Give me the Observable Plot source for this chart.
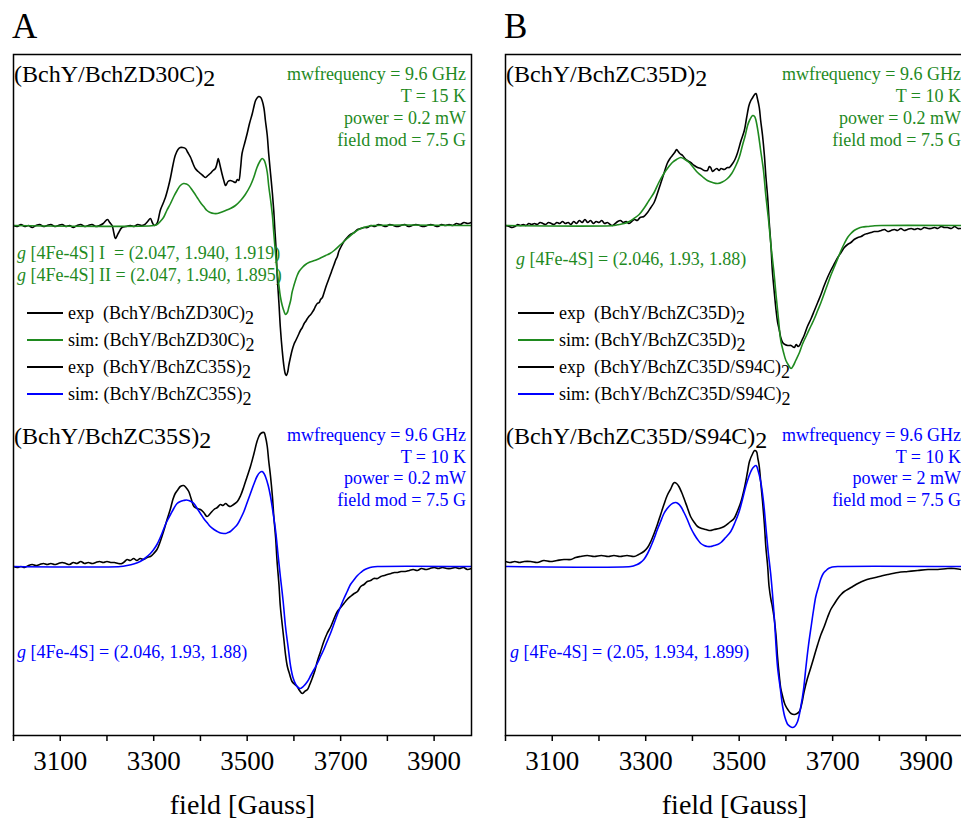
<!DOCTYPE html>
<html>
<head>
<meta charset="utf-8">
<script src="https://cdn.jsdelivr.net/npm/d3@7"></script>
<script src="https://cdn.jsdelivr.net/npm/@observablehq/plot@0.6"></script>
<style>
  html, body { margin: 0; padding: 0; background: #fff; overflow: hidden; }
  #root { position: relative; width: 961px; height: 819px; overflow: hidden; font-family: "Liberation Serif", "Times New Roman", serif; color: #000; }
  .abs { position: absolute; white-space: pre; }
  .sub { position: relative; top: 5px; }
  .sub4 { position: relative; top: 4px; }
  .row { position: absolute; height: 27px; line-height: 27px; font-size: 18px; white-space: pre; }
  .sw { position: absolute; top: 12px; height: 1.6px; }
</style>
</head>
<body>
<div id="root"></div>
<script>
// ---------- data (field in Gauss, intensity in arbitrary units relative to each baseline) ----------
const fieldTicks = d3.range(3000, 3981, 100);
const fieldDomain = [3000, 3980];
const offsetTop = 510;    // vertical offset of upper spectrum (a.u.)
const offsetBottom = 169; // vertical offset of lower spectrum (a.u.)

// Panel A, upper: (BchY/BchZD30C)2
const expD30C = [[3000,0],[3008,-1],[3016,1],[3024,-1],[3032,0],[3040,-2],[3048,0],[3056,1],[3064,-1],[3072,0],[3080,1],[3088,-1],[3096,0],[3104,1],[3112,-1],[3120,0],[3128,-2],[3136,0],[3144,1],[3152,-1],[3160,0],[3168,1],[3176,-1],[3184,0],[3192,2],[3201,6],[3206,3],[3211,0],[3215,-8],[3218,-13],[3224,-8],[3232,-2],[3240,-1],[3250,0],[3258,-1],[3266,1],[3274,0],[3281,1],[3287,4],[3293,7],[3297,3],[3301,0],[3307,2],[3314,15],[3320,22],[3325,28],[3331,38],[3336,48],[3341,60],[3346,70],[3352,76],[3357,78],[3362,78],[3368,77],[3373,73],[3379,68],[3384,62],[3389,57],[3395,54],[3400,52],[3405,50],[3411,48],[3416,50],[3421,52],[3427,55],[3432,57],[3436,63],[3438,67],[3442,60],[3446,52],[3450,45],[3454,40],[3459,44],[3464,45],[3470,44],[3475,43],[3479,46],[3482,45],[3486,58],[3489,72],[3495,83],[3500,92],[3505,102],[3511,112],[3515,120],[3518,125],[3522,128],[3525,129],[3529,128],[3532,125],[3536,117],[3539,105],[3543,90],[3546,72],[3550,52],[3554,32],[3557,14],[3559,-2],[3562,-25],[3564,-48],[3568,-78],[3571,-102],[3575,-125],[3579,-142],[3582,-149],[3584,-150],[3587,-146],[3589,-140],[3593,-131],[3596,-125],[3600,-119],[3604,-115],[3607,-112],[3611,-108],[3614,-105],[3618,-102],[3622,-98],[3625,-96],[3629,-93],[3632,-91],[3636,-89],[3639,-87],[3643,-84],[3646,-81],[3650,-78],[3654,-77],[3657,-74],[3661,-72],[3664,-68],[3668,-62],[3671,-58],[3675,-53],[3679,-48],[3682,-44],[3686,-39],[3689,-35],[3693,-31],[3696,-26],[3700,-22],[3707,-16],[3714,-12],[3721,-9],[3729,-7],[3736,-4],[3743,-3],[3750,-2],[3757,-2],[3765,0],[3773,-1],[3781,1],[3789,0],[3797,-1],[3805,1],[3813,0],[3821,-1],[3829,0],[3837,1],[3845,-1],[3853,0],[3861,1],[3869,0],[3877,-1],[3885,0],[3893,1],[3900,0],[3908,-1],[3916,1],[3924,0],[3932,1],[3940,0],[3948,2],[3956,1],[3964,3],[3972,2],[3980,3]];
const simD30C = [[3000,0],[3300,0],[3307,1],[3314,4],[3321,8],[3328,15],[3336,22],[3343,29],[3350,35],[3357,40],[3364,42],[3370,41.5],[3375,40],[3380,37],[3386,33],[3393,28],[3400,23],[3407,19],[3414,15],[3421,13],[3429,12],[3436,12],[3443,13],[3454,15],[3464,17],[3475,20],[3486,25],[3496,31],[3507,40],[3514,48],[3521,58],[3527,64],[3532,67],[3536,65.5],[3539,62],[3543,53],[3546,40],[3550,26],[3554,10],[3557,-8],[3561,-30],[3564,-45],[3568,-60],[3571,-71],[3575,-80],[3579,-86],[3582,-89],[3586,-87],[3589,-82],[3593,-75],[3596,-67],[3600,-60],[3604,-54],[3607,-50],[3611,-46],[3618,-42],[3625,-39],[3632,-37],[3641,-35.5],[3650,-34],[3659,-32],[3668,-30],[3677,-28],[3686,-25],[3700,-19],[3714,-13],[3729,-7],[3743,-3],[3757,-1],[3771,0],[3980,0]];

// Panel A, lower: (BchY/BchZC35S)2
const expC35S = [[3000,0],[3008,-1],[3016,0],[3024,-1],[3032,1],[3040,2],[3048,1],[3056,2],[3064,3],[3072,2],[3080,3],[3088,2],[3096,3],[3104,4],[3112,3],[3120,2],[3128,4],[3136,3],[3144,5],[3152,3],[3160,4],[3168,3],[3176,4],[3184,5],[3192,4],[3200,5],[3208,4],[3216,4],[3224,3],[3232,3],[3238,5],[3243,7],[3250,6],[3257,8],[3264,6],[3271,8],[3278,7],[3286,9],[3293,10],[3300,13],[3307,17],[3314,25],[3321,35],[3328,46],[3336,58],[3341,67],[3346,73],[3352,77],[3357,80],[3364,81],[3369,79],[3375,75],[3380,68],[3386,60],[3393,58],[3400,57],[3407,54],[3414,50],[3421,53],[3429,57],[3436,59],[3443,62],[3448,61],[3454,63],[3459,61],[3464,60],[3471,62],[3479,65],[3486,71],[3493,80],[3500,90],[3507,100],[3514,112],[3521,125],[3525,130],[3529,133],[3536,134],[3539,130],[3543,120],[3546,106],[3550,90],[3554,70],[3557,50],[3561,28],[3564,5],[3568,-18],[3571,-40],[3575,-58],[3579,-75],[3582,-88],[3586,-100],[3591,-108],[3596,-115],[3602,-118],[3607,-120],[3612,-124],[3618,-127],[3623,-125],[3629,-123],[3634,-118],[3639,-112],[3645,-104],[3650,-95],[3657,-85],[3664,-75],[3671,-67],[3679,-60],[3686,-52],[3693,-45],[3700,-41],[3707,-37],[3714,-33],[3721,-30],[3729,-27],[3736,-25],[3743,-20],[3750,-18],[3757,-15],[3764,-14],[3771,-12],[3779,-12],[3786,-10],[3793,-9],[3800,-8],[3808,-7],[3815,-6],[3822,-6],[3829,-5],[3838,-5],[3847,-4],[3855,-3],[3864,-4],[3873,-2],[3882,-3],[3891,-2],[3900,-1],[3909,-2],[3918,-1],[3927,-2],[3936,-2],[3945,-1],[3954,-2],[3963,-1],[3971,-3],[3980,-2]];
const simC35S = [[3000,0],[3229,0],[3243,1],[3257,2.5],[3271,5],[3282,8.5],[3293,13],[3300,17],[3307,22],[3314,29],[3321,37],[3328,45],[3336,52],[3343,58],[3350,63],[3357,65],[3364,66],[3370,66.5],[3375,66],[3380,65],[3386,63],[3393,58],[3400,53],[3407,48],[3414,44],[3421,40],[3429,37],[3436,35],[3443,33.5],[3450,33],[3454,33],[3459,34],[3464,35],[3471,38],[3479,42],[3486,48],[3493,55],[3500,64],[3507,73],[3514,82],[3521,90],[3527,94],[3532,95],[3536,93],[3539,90],[3545,81],[3550,70],[3555,55],[3561,35],[3566,12],[3571,-10],[3577,-35],[3582,-60],[3588,-82],[3593,-100],[3598,-111],[3604,-118],[3609,-121],[3614,-122],[3620,-120],[3629,-115],[3636,-109],[3643,-103],[3650,-97],[3657,-90],[3664,-83],[3671,-75],[3679,-66],[3686,-57],[3693,-48],[3700,-40],[3707,-32],[3714,-25],[3721,-18],[3729,-13],[3736,-9],[3743,-6],[3750,-3.5],[3757,-2],[3768,-0.5],[3779,0],[3980,0]];

// Panel B, upper: (BchY/BchZC35D)2
const expC35D = [[3000,0],[3008,-1],[3014,-2],[3020,-1],[3026,1],[3032,0],[3038,1],[3044,0],[3050,2],[3056,1],[3062,2],[3068,1],[3074,3],[3080,2],[3086,1],[3092,3],[3098,2],[3104,1],[3110,3],[3116,2],[3122,4],[3128,2],[3134,3],[3140,1],[3146,4],[3152,2],[3158,5],[3164,3],[3170,6],[3176,3],[3182,5],[3188,2],[3194,4],[3200,3],[3206,5],[3212,2],[3218,3],[3224,1],[3229,0],[3235,2],[3240,4],[3246,5],[3252,3],[3258,4],[3264,2],[3270,4],[3276,6],[3282,5],[3288,8],[3296,9],[3304,13],[3311,18],[3318,23],[3325,32],[3332,42],[3339,52],[3346,62],[3352,67],[3357,70],[3362,73],[3366,76],[3368,75],[3373,72],[3379,70],[3384,67],[3389,65],[3396,63],[3404,60],[3411,58],[3418,57],[3425,55],[3432,55],[3436,59],[3439,58],[3443,54],[3446,55],[3452,57],[3457,55],[3461,57],[3468,56],[3475,58],[3479,58],[3486,62],[3491,66],[3496,72],[3504,85],[3511,95],[3516,108],[3521,120],[3525,125],[3529,128],[3533,131],[3536,132],[3539,127],[3543,118],[3546,105],[3550,90],[3554,70],[3557,50],[3561,28],[3564,5],[3568,-20],[3571,-45],[3575,-66],[3579,-85],[3582,-96],[3586,-105],[3589,-112],[3593,-117],[3598,-119],[3604,-120],[3611,-120],[3618,-122],[3622,-119],[3626,-121],[3629,-120],[3634,-115],[3639,-110],[3646,-101],[3654,-93],[3661,-85],[3668,-77],[3675,-69],[3682,-60],[3689,-52],[3696,-45],[3704,-38],[3711,-32],[3718,-27],[3725,-22],[3732,-19],[3739,-17],[3746,-14],[3754,-12],[3761,-11],[3768,-9],[3775,-8],[3782,-7],[3789,-6],[3797,-6],[3804,-5],[3811,-4],[3818,-6],[3825,-5],[3832,-4],[3839,-5],[3846,-3],[3853,-5],[3860,-4],[3868,-3],[3875,-4],[3882,-3],[3889,-4],[3896,-2],[3904,-3],[3911,-3],[3918,-2],[3925,-3],[3932,-1],[3939,-2],[3946,-2],[3954,-3],[3961,-1],[3968,-3],[3975,-3],[3980,-4]];
const simC35D = [[3000,0],[3232,0],[3243,1],[3254,2],[3265,4],[3275,7],[3286,11],[3296,17],[3307,25],[3318,33],[3328,43],[3339,52],[3348,58],[3357,63],[3366,66],[3375,68],[3384,66],[3393,63],[3402,58],[3411,53],[3421,49],[3432,45],[3443,43],[3454,42],[3464,43.5],[3475,47],[3484,52],[3493,60],[3500,68],[3507,80],[3513,90],[3518,100],[3523,106],[3529,110],[3533,109],[3536,105],[3541,92],[3546,75],[3552,55],[3557,30],[3563,5],[3568,-20],[3574,-45],[3579,-70],[3584,-93],[3589,-115],[3595,-127],[3600,-135],[3606,-140],[3611,-143],[3616,-140],[3621,-135],[3629,-127],[3636,-118],[3645,-109],[3654,-100],[3661,-93],[3668,-85],[3675,-77],[3682,-68],[3689,-59],[3696,-50],[3704,-41],[3711,-33],[3718,-25],[3725,-18],[3732,-12],[3739,-8],[3746,-5],[3754,-3],[3764,-1.5],[3775,-1],[3790,-0.3],[3804,0],[3980,0]];

// Panel B, lower: (BchY/BchZC35D/S94C)2
const expS94C = [[3000,5],[3010,4],[3020,5],[3030,4],[3040,5],[3054,5],[3068,4],[3082,6],[3096,5],[3110,6],[3125,7],[3140,7],[3150,9],[3160,10],[3175,11],[3190,10],[3205,11],[3220,10],[3232,11],[3245,10],[3260,11],[3275,10],[3285,12],[3296,15],[3304,19],[3311,25],[3318,33],[3325,42],[3332,52],[3339,62],[3346,71],[3354,78],[3359,83],[3362,84],[3366,83],[3371,80],[3377,74],[3382,68],[3389,59],[3396,50],[3404,44],[3411,40],[3420,38],[3429,37],[3438,36],[3446,37],[3457,38],[3468,40],[3479,44],[3489,48],[3496,55],[3504,65],[3511,78],[3518,95],[3522,105],[3529,113],[3533,116],[3537,115],[3540,108],[3543,100],[3546,85],[3550,65],[3554,42],[3557,20],[3561,0],[3564,-20],[3568,-33],[3571,-40],[3575,-52],[3579,-70],[3582,-90],[3586,-110],[3589,-122],[3593,-130],[3598,-138],[3604,-143],[3611,-147],[3618,-148],[3624,-147],[3629,-145],[3634,-137],[3639,-125],[3646,-112],[3654,-100],[3661,-89],[3668,-78],[3675,-68],[3682,-60],[3689,-51],[3696,-43],[3704,-37],[3711,-32],[3718,-28],[3725,-25],[3732,-23],[3743,-20],[3754,-17],[3768,-14],[3782,-12],[3800,-10],[3818,-8],[3840,-6],[3861,-5],[3882,-4],[3904,-3],[3925,-3],[3946,-2],[3960,-2],[3975,-3],[3980,-4]];
const simS94C = [[3000,0],[3268,0],[3275,0.8],[3282,2],[3289,4],[3296,7],[3304,13],[3311,20],[3318,28],[3325,37],[3332,45],[3339,53],[3346,58],[3354,62],[3359,63.5],[3364,64],[3369,63],[3375,60],[3382,54],[3389,47],[3396,39],[3404,32],[3411,27],[3418,23],[3425,21],[3432,20],[3439,20],[3446,21],[3454,22],[3461,24],[3471,29],[3482,35],[3491,44],[3500,55],[3507,67],[3514,80],[3520,89],[3525,95],[3530,99],[3536,101],[3541,95],[3546,85],[3552,65],[3557,40],[3562,15],[3568,-10],[3575,-50],[3582,-100],[3588,-122],[3593,-140],[3598,-151],[3604,-158],[3609,-160],[3614,-161],[3619,-160],[3625,-155],[3632,-140],[3638,-122],[3643,-100],[3648,-80],[3654,-60],[3659,-44],[3664,-30],[3670,-20],[3675,-12],[3680,-7],[3686,-4],[3691,-2],[3696,-1],[3704,-0.3],[3711,0],[3980,0]];

// ---------- text ----------
const GREEN = "#1f8a1f";
const BLUE = "#0000ff";
const xLabel = "field [Gauss]";
const panels = [
  {
    letter: "A", left: 0,
    top:    {name: "(BchY/BchZD30C)", exp: expD30C, sim: simD30C, color: GREEN,
             params: ["mwfrequency = 9.6 GHz", "T = 15 K", "power = 0.2 mW", "field mod = 7.5 G"],
             g: [" [4Fe-4S] I  = (2.047, 1.940, 1.919)", " [4Fe-4S] II = (2.047, 1.940, 1.895)"]},
    bottom: {name: "(BchY/BchZC35S)", exp: expC35S, sim: simC35S, color: BLUE,
             params: ["mwfrequency = 9.6 GHz", "T = 10 K", "power = 0.2 mW", "field mod = 7.5 G"],
             g: [" [4Fe-4S] = (2.046, 1.93, 1.88)"]},
    legend: [["exp  ", "(BchY/BchZD30C)", "#000"], ["sim: ", "(BchY/BchZD30C)", GREEN],
             ["exp  ", "(BchY/BchZC35S)", "#000"], ["sim: ", "(BchY/BchZC35S)", BLUE]],
    gLeftTop: 17, gLeftBottom: 17, legendLeft: 27, paramRight: 466
  },
  {
    letter: "B", left: 492,
    top:    {name: "(BchY/BchZC35D)", exp: expC35D, sim: simC35D, color: GREEN,
             params: ["mwfrequency = 9.6 GHz", "T = 10 K", "power = 0.2 mW", "field mod = 7.5 G"],
             g: [" [4Fe-4S] = (2.046, 1.93, 1.88)"]},
    bottom: {name: "(BchY/BchZC35D/S94C)", exp: expS94C, sim: simS94C, color: BLUE,
             params: ["mwfrequency = 9.6 GHz", "T = 10 K", "power = 2 mW", "field mod = 7.5 G"],
             g: [" [4Fe-4S] = (2.05, 1.934, 1.899)"]},
    legend: [["exp  ", "(BchY/BchZC35D)", "#000"], ["sim: ", "(BchY/BchZC35D)", GREEN],
             ["exp  ", "(BchY/BchZC35D/S94C)", "#000"], ["sim: ", "(BchY/BchZC35D/S94C)", BLUE]],
    gLeftTop: 516 - 492, gLeftBottom: 510 - 492, legendLeft: 518 - 492, paramRight: 961 - 492
  }
];

const root = document.getElementById("root");

function addDiv(html, css) {
  const d = document.createElement("div");
  d.className = "abs";
  d.innerHTML = html;
  Object.assign(d.style, css);
  root.appendChild(d);
  return d;
}

for (const p of panels) {
  const lineOpts = (arr, off, color) => ({
    x: d => d[0], y: d => d[1] + off, stroke: color, strokeWidth: 1.6, curve: "catmull-rom", clip: true
  });
  const chart = Plot.plot({
    width: 480, height: 819,
    marginLeft: 13, marginRight: 9, marginTop: 54, marginBottom: 84,
    x: {domain: fieldDomain},
    y: {domain: [0, 681], axis: null},
    style: {fontFamily: "Liberation Serif, Times New Roman, serif", background: "transparent", color: "#000", overflow: "visible"},
    marks: [
      Plot.line(p.top.exp, lineOpts(p.top.exp, offsetTop, "#000")),
      Plot.line(p.top.sim, lineOpts(p.top.sim, offsetTop, p.top.color)),
      Plot.line(p.bottom.exp, lineOpts(p.bottom.exp, offsetBottom, "#000")),
      Plot.line(p.bottom.sim, lineOpts(p.bottom.sim, offsetBottom, p.bottom.color)),
      Plot.frame({stroke: "#000", strokeWidth: 1.5}),
      Plot.axisX(fieldTicks, {
        tickSize: 6, tickPadding: 9, fontSize: 27, strokeWidth: 1.5, label: null,
        tickFormat: d => (d % 200 === 100 ? String(d) : "")
      }),
      Plot.text([xLabel], {frameAnchor: "bottom", lineAnchor: "bottom", dy: 78, fontSize: 28, fill: "#000"})
    ]
  });
  chart.style.position = "absolute";
  chart.style.left = p.left + "px";
  chart.style.top = "0px";
  root.appendChild(chart);

  const L = p.left;
  // panel letter
  addDiv(p.letter, {left: (L + 12) + "px", top: "9px", fontSize: "35px", lineHeight: "35px"});
  // sample titles
  addDiv(p.top.name + '<span class="sub4">2</span>', {left: (L + 14) + "px", top: "62px", fontSize: "24px", lineHeight: "24px"});
  addDiv(p.bottom.name + '<span class="sub4">2</span>', {left: (L + 14) + "px", top: "424px", fontSize: "24px", lineHeight: "24px"});
  // measurement parameters
  addDiv(p.top.params.join("<br>"), {right: (961 - L - p.paramRight) + "px", top: "63px", fontSize: "18px", lineHeight: "22px", textAlign: "right", color: p.top.color});
  addDiv(p.bottom.params.join("<br>"), {right: (961 - L - p.paramRight) + "px", top: "425px", fontSize: "18px", lineHeight: "21.7px", textAlign: "right", color: p.bottom.color});
  // g values
  addDiv(p.top.g.map(s => "<i>g</i>" + s).join("<br>"), {left: (L + p.gLeftTop) + "px", top: (p.top.g.length > 1 ? 242 : 248) + "px", fontSize: "18px", lineHeight: "22px", color: p.top.color});
  addDiv(p.bottom.g.map(s => "<i>g</i>" + s).join("<br>"), {left: (L + p.gLeftBottom) + "px", top: "641px", fontSize: "18px", lineHeight: "22px", color: p.bottom.color});
  // legend
  p.legend.forEach((r, i) => {
    const row = document.createElement("div");
    row.className = "row";
    row.style.left = (L + p.legendLeft) + "px";
    row.style.top = (300 + i * 27) + "px";
    row.innerHTML = `<span class="sw" style="left:0;width:36px;background:${r[2]}"></span><span style="position:absolute;left:41px">${r[0]}${r[1]}<span class="sub">2</span></span>`;
    root.appendChild(row);
  });
}
</script>
</body>
</html>
